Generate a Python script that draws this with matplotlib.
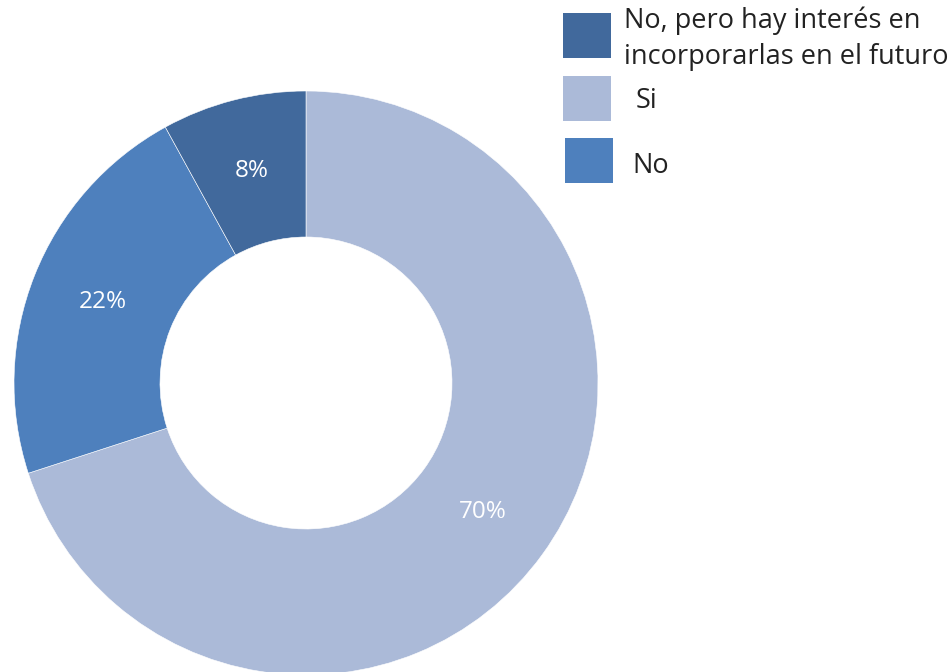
import matplotlib
matplotlib.use("Agg")
import matplotlib.pyplot as plt
from matplotlib.patches import Rectangle

categories = ["Si", "No", "No, pero hay interés en\nincorporarlas en el futuro"]
values = [70, 22, 8]
colors = ["#ABBAD8", "#4E80BD", "#41699C"]
legend_order = [2, 0, 1]

plt.rcParams['font.family'] = ['Open Sans', 'DejaVu Sans']

W, H = 948, 672
fig = plt.figure(figsize=(W / 100, H / 100), dpi=100)
ax = fig.add_axes([0, 0, 1, 1])
cx, cy, R = 306, 383, 292

wedges, texts = ax.pie(values, colors=colors, startangle=90, counterclock=False,
                       radius=1.0, labels=[f"{v}%" for v in values], labeldistance=0.75,
                       wedgeprops=dict(width=0.5, edgecolor='white', linewidth=0.4),
                       textprops=dict(color='white', fontsize=17.5, ha='center', va='center'))
ax.set_aspect('auto')
ax.set_xlim(-cx / R, (W - cx) / R)
ax.set_ylim(-(H - cy) / R, cy / R)
ax.axis('off')

# legend (manual)
boxes = [(563, 13, 48, 45), (563, 76, 48, 45), (565, 138, 48, 45)]
text_pos = [(624, 39), (636, 101), (632, 166)]
for (bx, by, bw, bh), (tx, ty), idx in zip(boxes, text_pos, legend_order):
    fig.patches.append(Rectangle((bx / W, 1 - (by + bh) / H), bw / W, bh / H,
                                 transform=fig.transFigure, facecolor=colors[idx],
                                 edgecolor='none'))
    fig.text(tx / W, 1 - ty / H, categories[idx], fontsize=19.5, color='#222222',
             ha='left', va='center', linespacing=1.4)

fig.savefig("out.png", dpi=100)
